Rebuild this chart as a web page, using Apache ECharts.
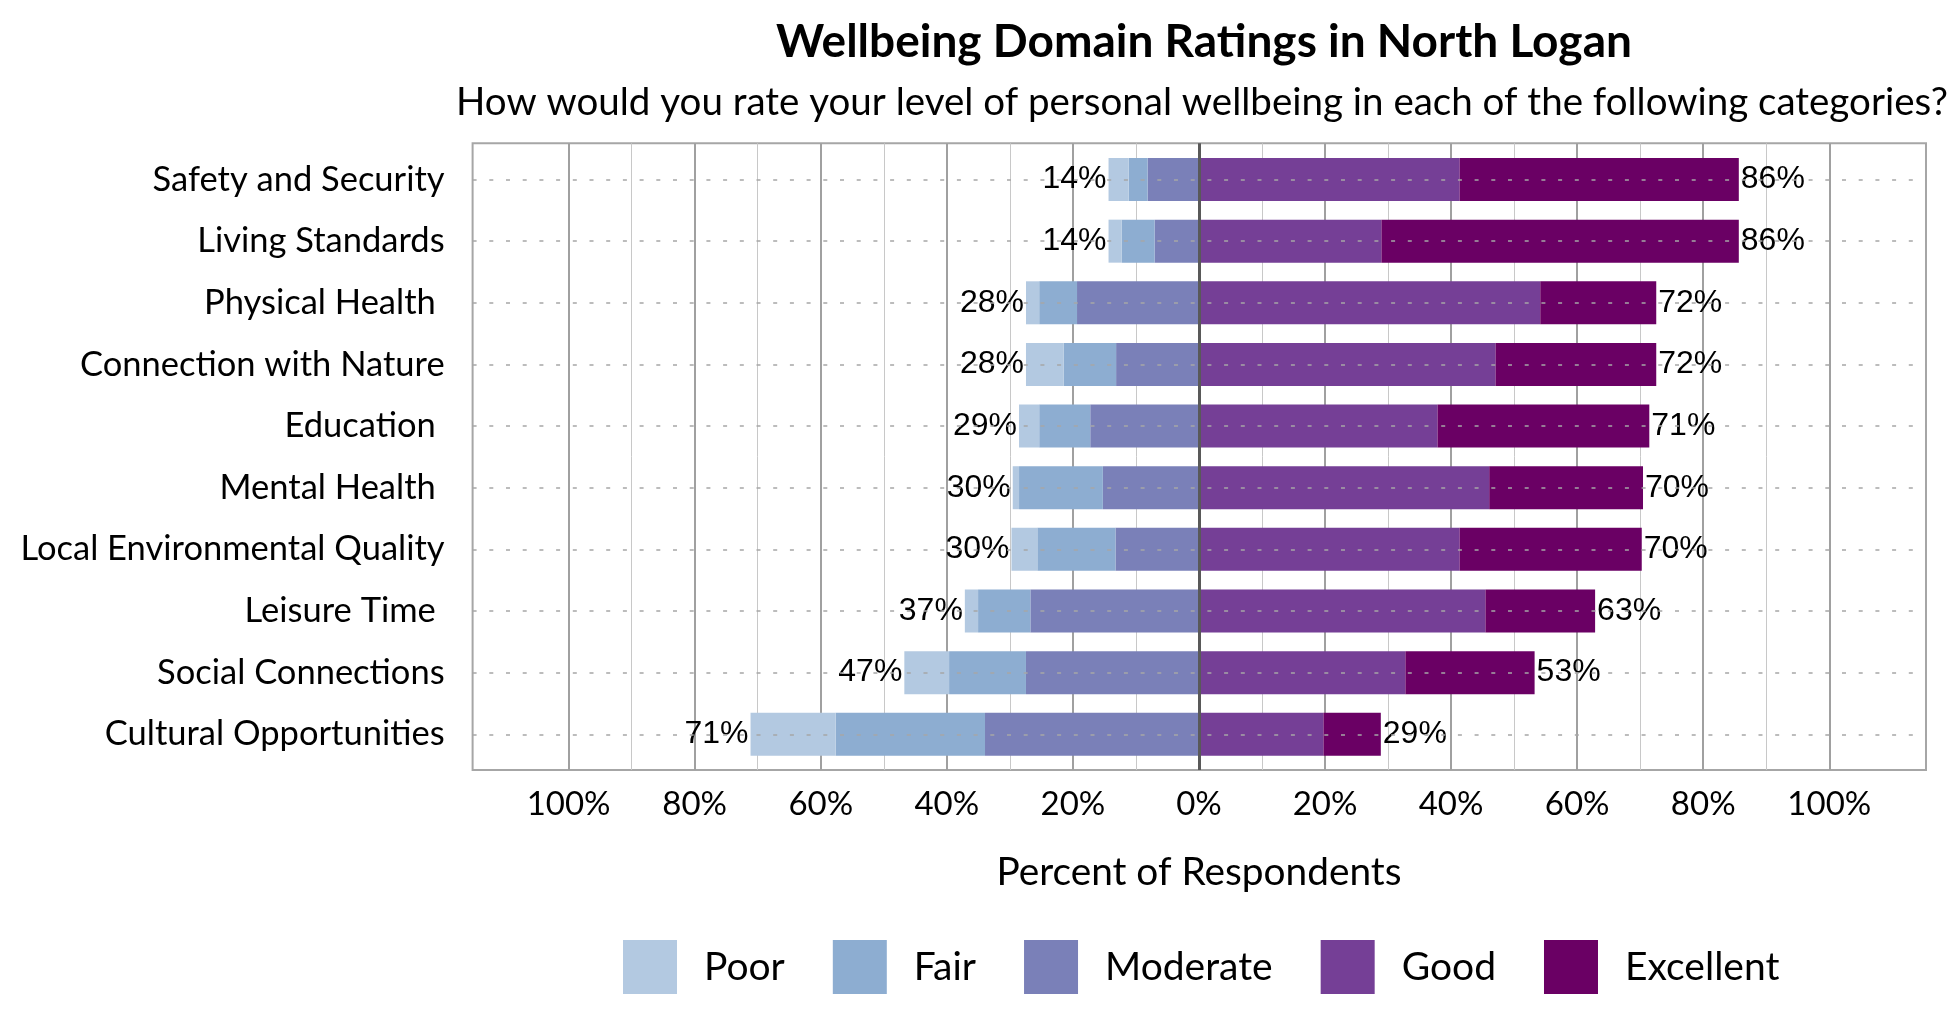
<!DOCTYPE html>
<html>
<head>
<meta charset="utf-8">
<script src="https://cdn.jsdelivr.net/npm/echarts@6/dist/echarts.min.js"></script>
<style>
  html, body { margin: 0; padding: 0; background: #fff; }
  #chart { width: 1950px; height: 1020px; }
</style>
</head>
<body>
<div id="chart"></div>
<script>
const categories = ['Safety and Security', 'Living Standards', 'Physical Health ', 'Connection with Nature', 'Education ', 'Mental Health ', 'Local Environmental Quality', 'Leisure Time ', 'Social Connections', 'Cultural Opportunities'];
const poor      = [3.2, 2.1, 2.1, 6.0, 3.2, 1.0, 4.1, 2.1, 7.1, 13.5];
const fair      = [3.0, 5.2, 6.0, 8.3, 8.1, 13.3, 12.4, 8.3, 12.2, 23.7];
const moderate  = [8.2, 7.1, 19.4, 13.2, 17.3, 15.3, 13.3, 26.8, 27.5, 34.0];
const good      = [41.3, 28.9, 54.1, 47.0, 37.8, 46.0, 41.3, 45.4, 32.7, 19.7];
const excellent = [44.3, 56.7, 18.4, 25.5, 33.6, 24.4, 28.9, 17.4, 20.5, 9.1];
const negLabels = [14, 14, 28, 28, 29, 30, 30, 37, 47, 71];
const posLabels = [86, 86, 72, 72, 71, 70, 70, 63, 53, 29];
const legendNames = ['Poor', 'Fair', 'Moderate', 'Good', 'Excellent'];

const colors = { Poor: '#b3c9e1', Fair: '#8dadd1', Moderate: '#7a80b8', Good: '#753f96', Excellent: '#6a0064' };
const FONT = 'Lato';
const LABEL_FONT = 'Liberation Sans';

const chart = echarts.init(document.getElementById('chart'), null, { renderer: 'canvas' });

function barSeries(name, values, sign, label) {
  return {
    name: name,
    type: 'bar',
    stack: 'total',
    xAxisIndex: 0,
    yAxisIndex: 0,
    barWidth: 43,
    z: 3,
    itemStyle: { color: colors[name] },
    emphasis: { disabled: true },
    data: values.map(v => sign * v),
    label: label || { show: false }
  };
}

const option = {
  animation: false,
  backgroundColor: '#ffffff',
  title: [
    {
      text: 'Wellbeing Domain Ratings in North Logan',
      left: 1199, top: 14, textAlign: 'center',
      textStyle: { fontFamily: FONT, fontWeight: 'bold', fontSize: 46, color: '#000' }
    },
    {
      text: 'How would you rate your level of personal wellbeing in each of the following categories?',
      left: 1197, top: 78, textAlign: 'center',
      textStyle: { fontFamily: FONT, fontWeight: 'normal', fontSize: 38.5, color: '#000' }
    }
  ],
  legend: {
    data: legendNames,
    left: 618, top: 935,
    itemWidth: 54, itemHeight: 54, itemGap: 48,
    icon: 'rect',
    selectedMode: false,
    textStyle: { fontFamily: FONT, fontSize: 39, color: '#000', padding: [0, 0, 0, 22] }
  },
  grid: [
    { left: 472.6, width: 1453.4, top: 148.7, height: 616.4 },
    { left: 568.6, width: 1260.7, top: 143.3, height: 626.7 },
    { left: 472.6, width: 1453.4, top: 143.3, height: 626.7, show: true, borderColor: '#a6a6a6', borderWidth: 2, backgroundColor: 'transparent' }
  ],
  xAxis: [
    { gridIndex: 0, type: 'value', min: -115.3, max: 115.3, show: false },
    {
      gridIndex: 1, type: 'value', min: -100, max: 100, interval: 20,
      axisLine: { show: false }, axisTick: { show: false },
      splitLine: { show: true, lineStyle: { color: '#a0a0a0', width: 2 } },
      minorTick: { show: false, splitNumber: 2 },
      minorSplitLine: { show: true, lineStyle: { color: '#c8c8c8', width: 1 } },
      axisLabel: { formatter: v => Math.abs(v) + '%', fontFamily: FONT, fontSize: 33, color: '#000', margin: 18 },
      name: 'Percent of Respondents', nameLocation: 'middle', nameGap: 83,
      nameTextStyle: { fontFamily: FONT, fontSize: 38.8, color: '#000' }
    },
    { gridIndex: 2, type: 'value', min: 0, max: 1, show: false }
  ],
  yAxis: [
    {
      gridIndex: 0, type: 'category', data: categories, inverse: true,
      axisLine: { show: false }, axisTick: { show: false }, splitLine: { show: false },
      axisLabel: { fontFamily: FONT, fontSize: 34.5, color: '#000', margin: 28 }
    },
    { gridIndex: 1, type: 'value', min: 0, max: 1, show: false },
    { gridIndex: 2, type: 'value', min: 0, max: 1, show: false }
  ],
  series: [
    {
      name: 'rowLines', type: 'line', data: [], xAxisIndex: 0, yAxisIndex: 0, z: 1,
      markLine: {
        silent: true, symbol: 'none', label: { show: false },
        lineStyle: { type: [4, 12.7], color: '#a6a6a6', width: 1.5 },
        data: categories.map((c, i) => ({ yAxis: i }))
      }
    },
    barSeries('Moderate', moderate, -1),
    barSeries('Fair', fair, -1),
    barSeries('Poor', poor, -1, {
      show: true, position: 'left', distance: 2,
      fontFamily: LABEL_FONT, fontSize: 32, color: '#000',
      formatter: p => negLabels[p.dataIndex] + '%'
    }),
    barSeries('Good', good, 1),
    barSeries('Excellent', excellent, 1, {
      show: true, position: 'right', distance: 2,
      fontFamily: LABEL_FONT, fontSize: 32, color: '#000',
      formatter: p => posLabels[p.dataIndex] + '%'
    }),
    {
      name: 'centerLine', type: 'line', data: [], xAxisIndex: 1, yAxisIndex: 1, z: 10,
      markLine: {
        silent: true, symbol: 'none', label: { show: false },
        lineStyle: { type: 'solid', color: '#595959', width: 3 },
        data: [{ xAxis: 0 }]
      }
    }
  ]
};

chart.setOption(option);
</script>
</body>
</html>
